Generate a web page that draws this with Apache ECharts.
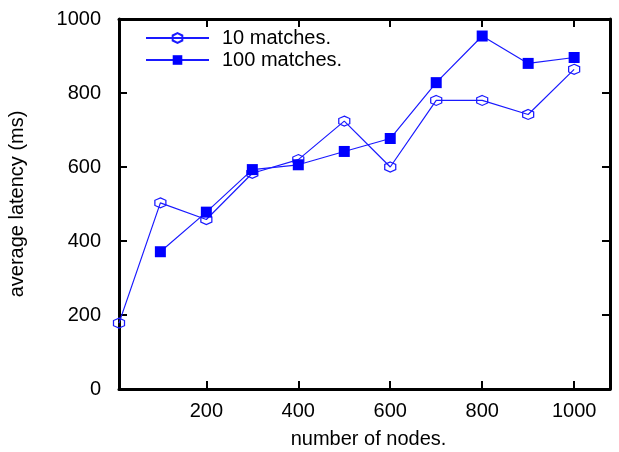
<!DOCTYPE html>
<html>
<head>
<meta charset="utf-8">
<script src="https://cdn.jsdelivr.net/npm/echarts@6/dist/echarts.min.js"></script>
<style>html,body{margin:0;padding:0;background:#fff}#c{width:619px;height:452px}</style>
</head>
<body>
<div id="c"></div>
<script>
const nodes = [10, 100, 200, 300, 400, 500, 600, 700, 800, 900, 1000];
const matches10 = [178, 503, 458, 583, 620, 724, 600, 780, 780, 742, 864];
const nodes100 = [100, 200, 300, 400, 500, 600, 700, 800, 900, 1000];
const matches100 = [371, 478, 593, 606, 642, 677, 828, 954, 880, 896];
const xTicks = [200, 400, 600, 800, 1000];
const yTicks = [0, 200, 400, 600, 800, 1000];
const seriesNames = ['10 matches.', '100 matches.'];

const font = 'Liberation Sans, Arial, sans-serif';
const hexPath = 'path://M0,-5 L4.6,-2.6 L4.6,2.6 L0,5 L-4.6,2.6 L-4.6,-2.6 Z';
const axisLine = { show: true, onZero: false, lineStyle: { color: '#000', width: 3 } };
const tick = (vals) => ({ show: true, inside: true, length: 8, customValues: vals, lineStyle: { color: '#000', width: 2 } });
const plain = (v) => String(v);

const chart = echarts.init(document.getElementById('c'), null, { renderer: 'canvas' });
chart.setOption({
  animation: false,
  backgroundColor: '#fff',
  grid: { left: 119, right: 9, top: 19, bottom: 63, containLabel: false, outerBoundsMode: 'none' },
  legend: {
    orient: 'vertical', left: 145, top: 28, padding: 0, itemWidth: 63, itemHeight: 12, itemGap: 2,
    data: seriesNames,
    textStyle: { fontFamily: font, fontSize: 20, lineHeight: 20, color: '#000', padding: [0, 0, 0, 8] }
  },
  xAxis: [
    {
      type: 'value', min: 10, max: 1078, position: 'bottom',
      name: 'number of nodes.', nameLocation: 'middle', nameGap: 40,
      nameTextStyle: { fontFamily: font, fontSize: 20, color: '#000', padding: [0, 0, 0, 8] },
      axisLine: axisLine, axisTick: tick(xTicks),
      axisLabel: { customValues: xTicks, formatter: plain, fontFamily: font, fontSize: 20, color: '#000', margin: 12 },
      splitLine: { show: false }
    },
    {
      type: 'value', min: 10, max: 1078, position: 'top',
      axisLine: axisLine, axisTick: tick(xTicks),
      axisLabel: { show: false }, splitLine: { show: false }
    }
  ],
  yAxis: [
    {
      type: 'value', min: 0, max: 1000, interval: 200, position: 'left',
      name: 'average latency (ms)', nameLocation: 'middle', nameGap: 92,
      nameTextStyle: { fontFamily: font, fontSize: 20, color: '#000' },
      axisLine: axisLine, axisTick: tick(yTicks),
      axisLabel: { customValues: yTicks, formatter: plain, fontFamily: font, fontSize: 20, color: '#000', margin: 18 },
      splitLine: { show: false }
    },
    {
      type: 'value', min: 0, max: 1000, interval: 200, position: 'right',
      axisLine: axisLine, axisTick: tick(yTicks),
      axisLabel: { show: false }, splitLine: { show: false }
    }
  ],
  series: [
    {
      name: seriesNames[0], type: 'line', xAxisIndex: 0, yAxisIndex: 0,
      data: nodes.map((n, i) => [n, matches10[i]]),
      symbol: hexPath, symbolSize: [11, 10], showAllSymbol: true,
      lineStyle: { color: '#1a1aff', width: 1.2 },
      itemStyle: { color: 'rgba(255,255,255,0)', borderColor: '#1a1aff', borderWidth: 1.2 },
      z: 3
    },
    {
      name: seriesNames[1], type: 'line', xAxisIndex: 0, yAxisIndex: 0,
      data: nodes100.map((n, i) => [n, matches100[i]]),
      symbol: 'rect', symbolSize: 11, showAllSymbol: true,
      lineStyle: { color: '#1a1aff', width: 1.2 },
      itemStyle: { color: '#0000ff', borderColor: '#0000ff', borderWidth: 0 },
      z: 4
    }
  ]
});
</script>
</body>
</html>
